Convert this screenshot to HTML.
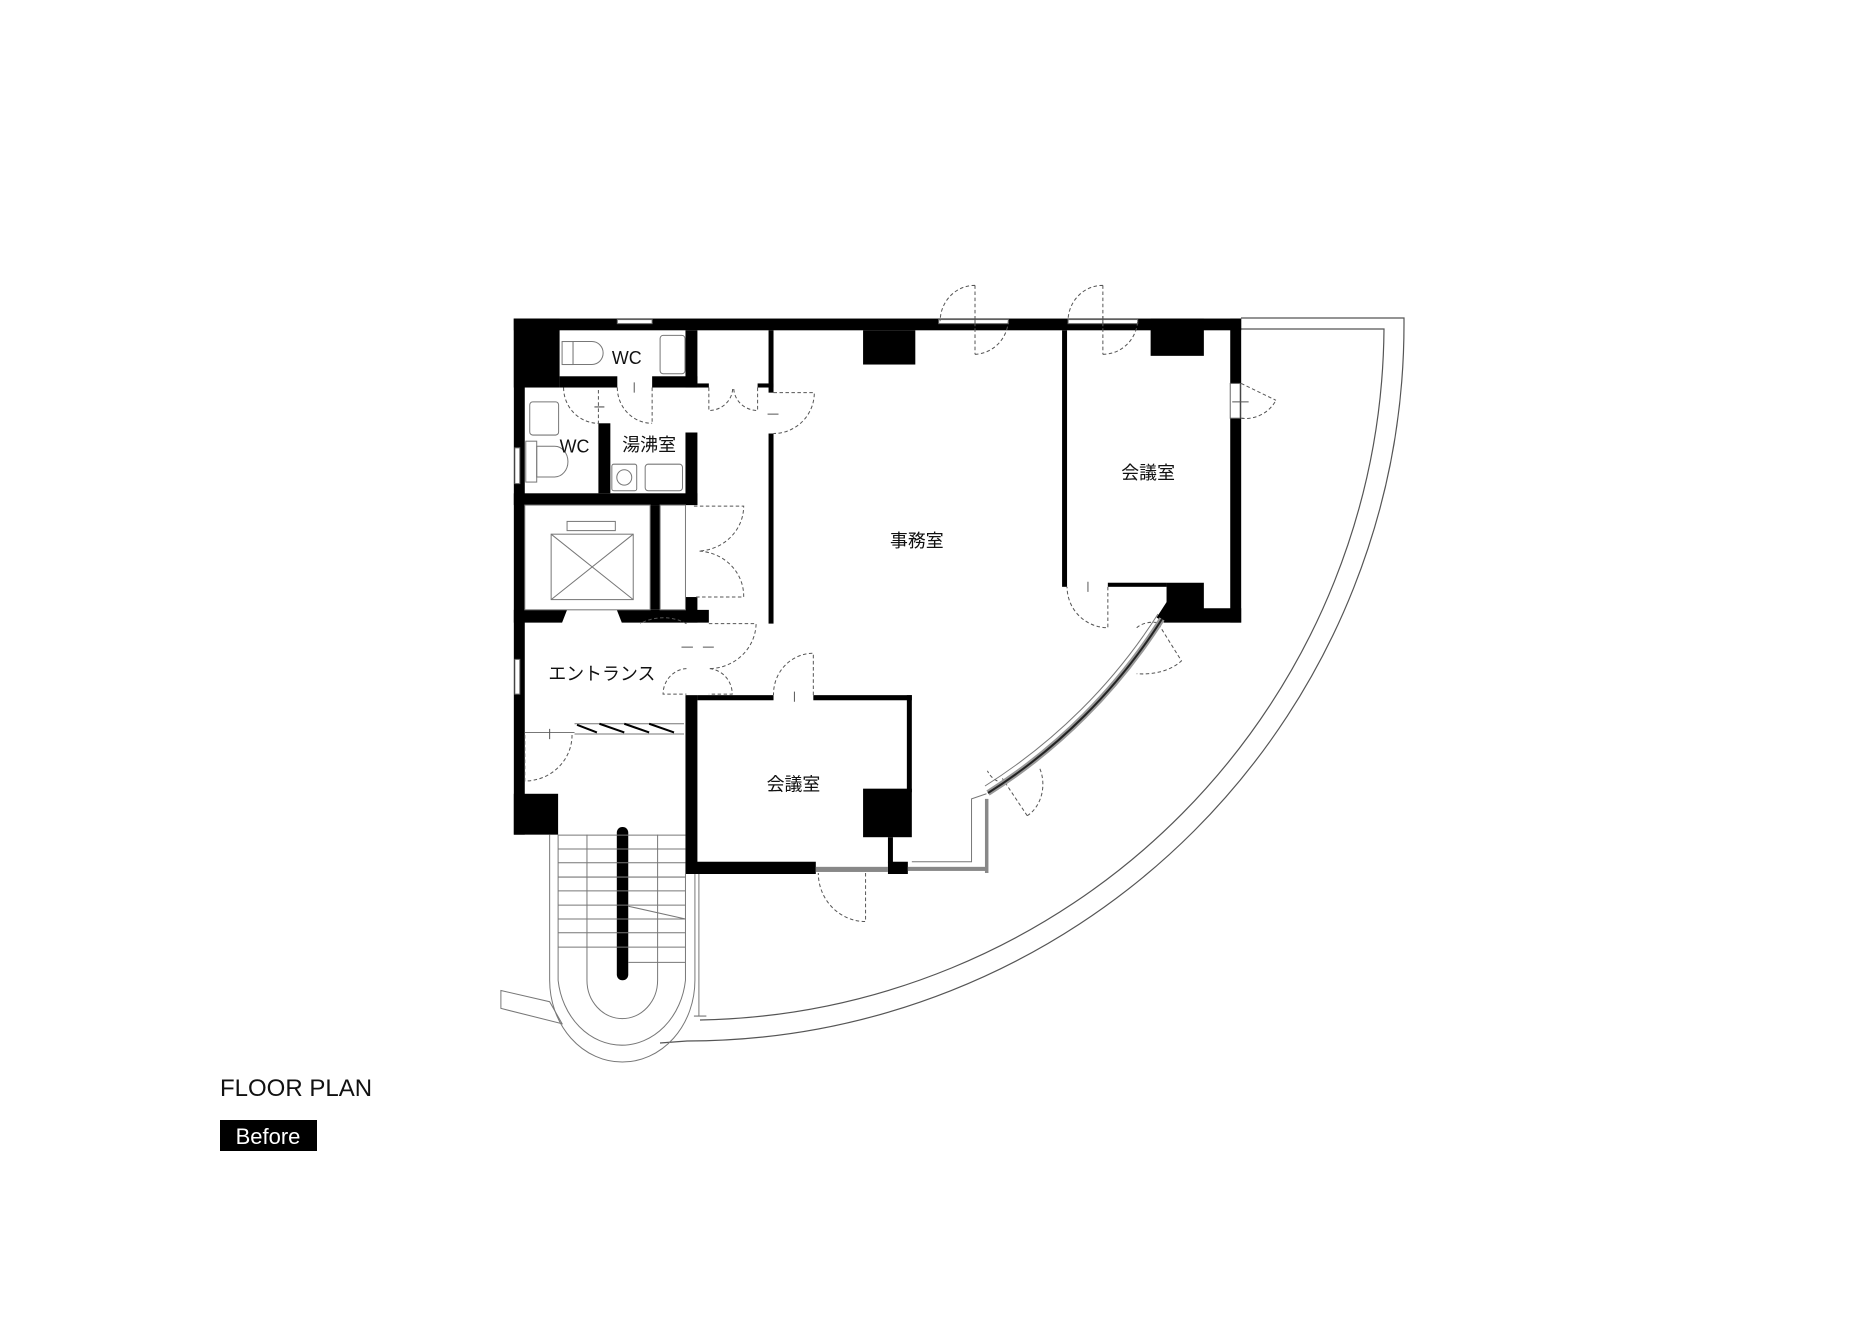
<!DOCTYPE html>
<html><head><meta charset="utf-8"><style>
html,body{margin:0;padding:0;background:#fff;}
body{width:1856px;height:1342px;position:relative;overflow:hidden;}
svg{position:absolute;left:0;top:0;}
.t{font-family:"Liberation Sans","Noto Sans CJK JP",sans-serif;fill:#111;}
</style></head><body>
<svg width="1856" height="1342" viewBox="0 0 1856 1342" xmlns="http://www.w3.org/2000/svg">
<g fill="none" stroke="#555" stroke-width="1.2">
<path d="M1241,318 L1404,318 L1404,324 A717,717 0 0 1 687,1041 L660,1043"/>
<path d="M1241,329 L1384,329 A697,697 0 0 1 700,1020"/>
</g>
<g transform="translate(480,270) scale(0.4975,0.511)">
<g fill="#000">
<rect x="68" y="95" width="1462" height="23"/>
<rect x="68" y="95" width="92" height="135"/>
<rect x="68" y="95" width="22" height="1010"/>
<rect x="160" y="208" width="116" height="22"/>
<rect x="346" y="208" width="91" height="22"/>
<rect x="413" y="118" width="24" height="112"/>
<rect x="413" y="318" width="24" height="142"/>
<rect x="238" y="300" width="24" height="137"/>
<rect x="68" y="437" width="369" height="23"/>
<rect x="437" y="222" width="23" height="8"/>
<rect x="558" y="222" width="32" height="8"/>
<rect x="580" y="118" width="10" height="122"/>
<rect x="580" y="320" width="10" height="372"/>
<rect x="342" y="460" width="20" height="205"/>
<rect x="413" y="640" width="24" height="50"/>
<path d="M68,665 L175,665 L165,690 L68,690Z"/>
<path d="M275,665 L460,665 L460,690 L285,690Z"/>
<rect x="68" y="1025" width="89" height="80"/>
<rect x="770" y="118" width="105" height="67"/>
<rect x="1348" y="95" width="107" height="73"/>
<rect x="1170" y="118" width="10" height="502"/>
<rect x="1262" y="612" width="118" height="8"/>
<path d="M1380,612 L1455,612 L1455,662 L1530,662 L1530,690 L1375,690 L1360,680 L1380,650Z"/>
<rect x="1508" y="95" width="22" height="595"/>
<rect x="413" y="832" width="24" height="350"/>
<rect x="437" y="832" width="153" height="10"/>
<rect x="670" y="832" width="198" height="10"/>
<rect x="858" y="832" width="10" height="190"/>
<rect x="770" y="1015" width="98" height="95"/>
<rect x="820" y="1110" width="10" height="50"/>
<rect x="820" y="1158" width="40" height="24"/>
<rect x="413" y="1158" width="262" height="24"/>
<rect x="275" y="1090" width="23" height="300" rx="11"/>
</g>
<g fill="#fff" stroke="#666" stroke-width="2">
<rect x="276" y="97" width="70" height="8"/>
<rect x="922" y="97" width="140" height="8"/>
<rect x="1182" y="97" width="140" height="8"/>
<rect x="1508" y="222" width="20" height="68"/>
<rect x="70" y="348" width="10" height="70"/>
<rect x="70" y="762" width="10" height="68"/>
</g>
<g fill="#888">
<rect x="675" y="1168" width="145" height="10"/>
<rect x="860" y="1168" width="160" height="8"/>
<rect x="1015" y="1035" width="7" height="145"/>
</g>
<g fill="none" stroke="#777" stroke-width="2">
<path d="M868,1158 L988,1158 L988,1035 L1018,1025"/>
<rect x="90" y="460" width="252" height="205"/>
<rect x="362" y="460" width="51" height="205"/>
<rect x="143" y="517" width="165" height="128"/>
<path d="M143,517 L308,645 M308,517 L143,645"/>
<rect x="175" y="492" width="97" height="18"/>
<rect x="165" y="140" width="22" height="45"/><path d="M187,140 L225,140 A22,22 0 0 1 225,185 L187,185Z"/>
<rect x="362" y="128" width="50" height="75" rx="6"/>
<rect x="100" y="258" width="58" height="65" rx="6"/>
<rect x="92" y="335" width="22" height="80"/><path d="M114,345 L150,345 A25,28 0 0 1 150,405 L114,405Z"/>
<rect x="265" y="380" width="50" height="52" rx="4"/><circle cx="290" cy="406" r="15"/>
<rect x="332" y="380" width="75" height="52" rx="6"/>
<path d="M190,888 L410,888 M190,908 L410,908 M90,905 L190,905"/>
<path d="M195,890 L235,905 M240,888 L290,905 M290,888 L340,905 M340,888 L390,905" stroke="#000" stroke-width="4"/>
<path d="M140,1105 L140,1390 A146,160 0 0 0 432,1390 L432,1182 M157,1105 L157,1390 A129,145 0 0 0 413,1390 L413,1182 M215,1105 L215,1390 A71,75 0 0 0 357,1390 L357,1105"/>
<path d="M157,1106 L413,1106 M157,1133 L413,1133 M157,1160 L413,1160 M157,1188 L413,1188 M157,1215 L413,1215 M157,1243 L413,1243 M157,1270 L413,1270 M157,1297 L413,1297 M157,1325 L413,1325 M298,1355 L413,1355"/>
<path d="M298,1245 L413,1270"/>
<path d="M440,1182 L440,1460 M430,1460 L455,1460"/>
<path d="M42,1410 L140,1432 L165,1475 L42,1445Z"/>
</g>
<g fill="none" stroke="#555" stroke-width="2" stroke-dasharray="7,5">
<path d="M995,30 L995,165 M995,30 A70,70 0 0 0 925,100 M995,165 A70,70 0 0 0 1062,100"/>
<path d="M1252,30 L1252,165 M1252,30 A70,70 0 0 0 1182,100 M1252,165 A70,70 0 0 0 1322,100"/>
<path d="M1530,222 L1600,255 M1530,290 A70,70 0 0 0 1600,255"/>
<path d="M346,230 L346,300 M276,230 A70,70 0 0 0 346,300"/>
<path d="M168,230 A70,70 0 0 0 238,300 L238,230"/>
<path d="M460,230 L460,275 A48,45 0 0 0 508,230 M558,230 L558,275 A48,45 0 0 1 510,230"/>
<path d="M590,240 L672,240 A82,80 0 0 1 590,320"/>
<path d="M430,462 L530,462 A95,88 0 0 1 440,550 A95,88 0 0 1 530,640 L430,640"/>
<path d="M415,692 A95,90 0 0 0 322,692 M415,780 A50,50 0 0 0 368,830 L415,830"/>
<path d="M460,692 L555,692 A95,90 0 0 1 460,780 A50,50 0 0 1 507,830 L460,830"/>
<path d="M670,832 L670,750 A80,80 0 0 0 590,832"/>
<path d="M775,1180 L775,1275 A95,95 0 0 1 680,1180"/>
<path d="M1262,620 L1262,700 A82,80 0 0 1 1180,620"/>
<path d="M1320,700 A40,25 0 0 1 1362,690 L1410,765 A95,60 0 0 1 1320,790"/>
<path d="M1040,1000 A40,40 0 0 1 1020,980 M1100,1068 L1050,995 M1100,1068 A60,70 0 0 0 1125,975"/>
<path d="M90,910 L90,1000 A95,90 0 0 0 185,910"/>
</g>
<g fill="none" stroke="#555" stroke-width="2">
<path d="M310,220 L310,240 M230,268 L250,268 M995,90 L995,110 M1252,90 L1252,110 M1512,258 L1545,258 M578,282 L600,282 M1222,610 L1222,630 M632,825 L632,845 M140,898 L140,918 M405,738 L428,738 M448,738 L470,738"/>
</g>
<g class="t" font-size="36" text-anchor="middle">
<text x="295" y="184">WC</text>
<text x="190" y="357">WC</text>
<text x="340" y="354">湯沸室</text>
<text x="878" y="542">事務室</text>
<text x="1343" y="409">会議室</text>
<text x="245" y="802">エントランス</text>
<text x="630" y="1019">会議室</text>
</g>
</g>
<path d="M1162,619 A562,562 0 0 1 988,793" fill="none" stroke="#999" stroke-width="6"/>
<path d="M1162,619 A562,562 0 0 1 988,793" fill="none" stroke="#222" stroke-width="2"/>
<path d="M1158,614 A555,555 0 0 1 985,786" fill="none" stroke="#777" stroke-width="1"/>
<text x="220" y="1096" class="t" font-size="24">FLOOR PLAN</text>
<rect x="220" y="1120" width="97" height="31" fill="#000"/>
<text x="268" y="1144" font-family="Liberation Sans, sans-serif" font-size="22" fill="#fff" text-anchor="middle">Before</text>
</svg>
</body></html>
